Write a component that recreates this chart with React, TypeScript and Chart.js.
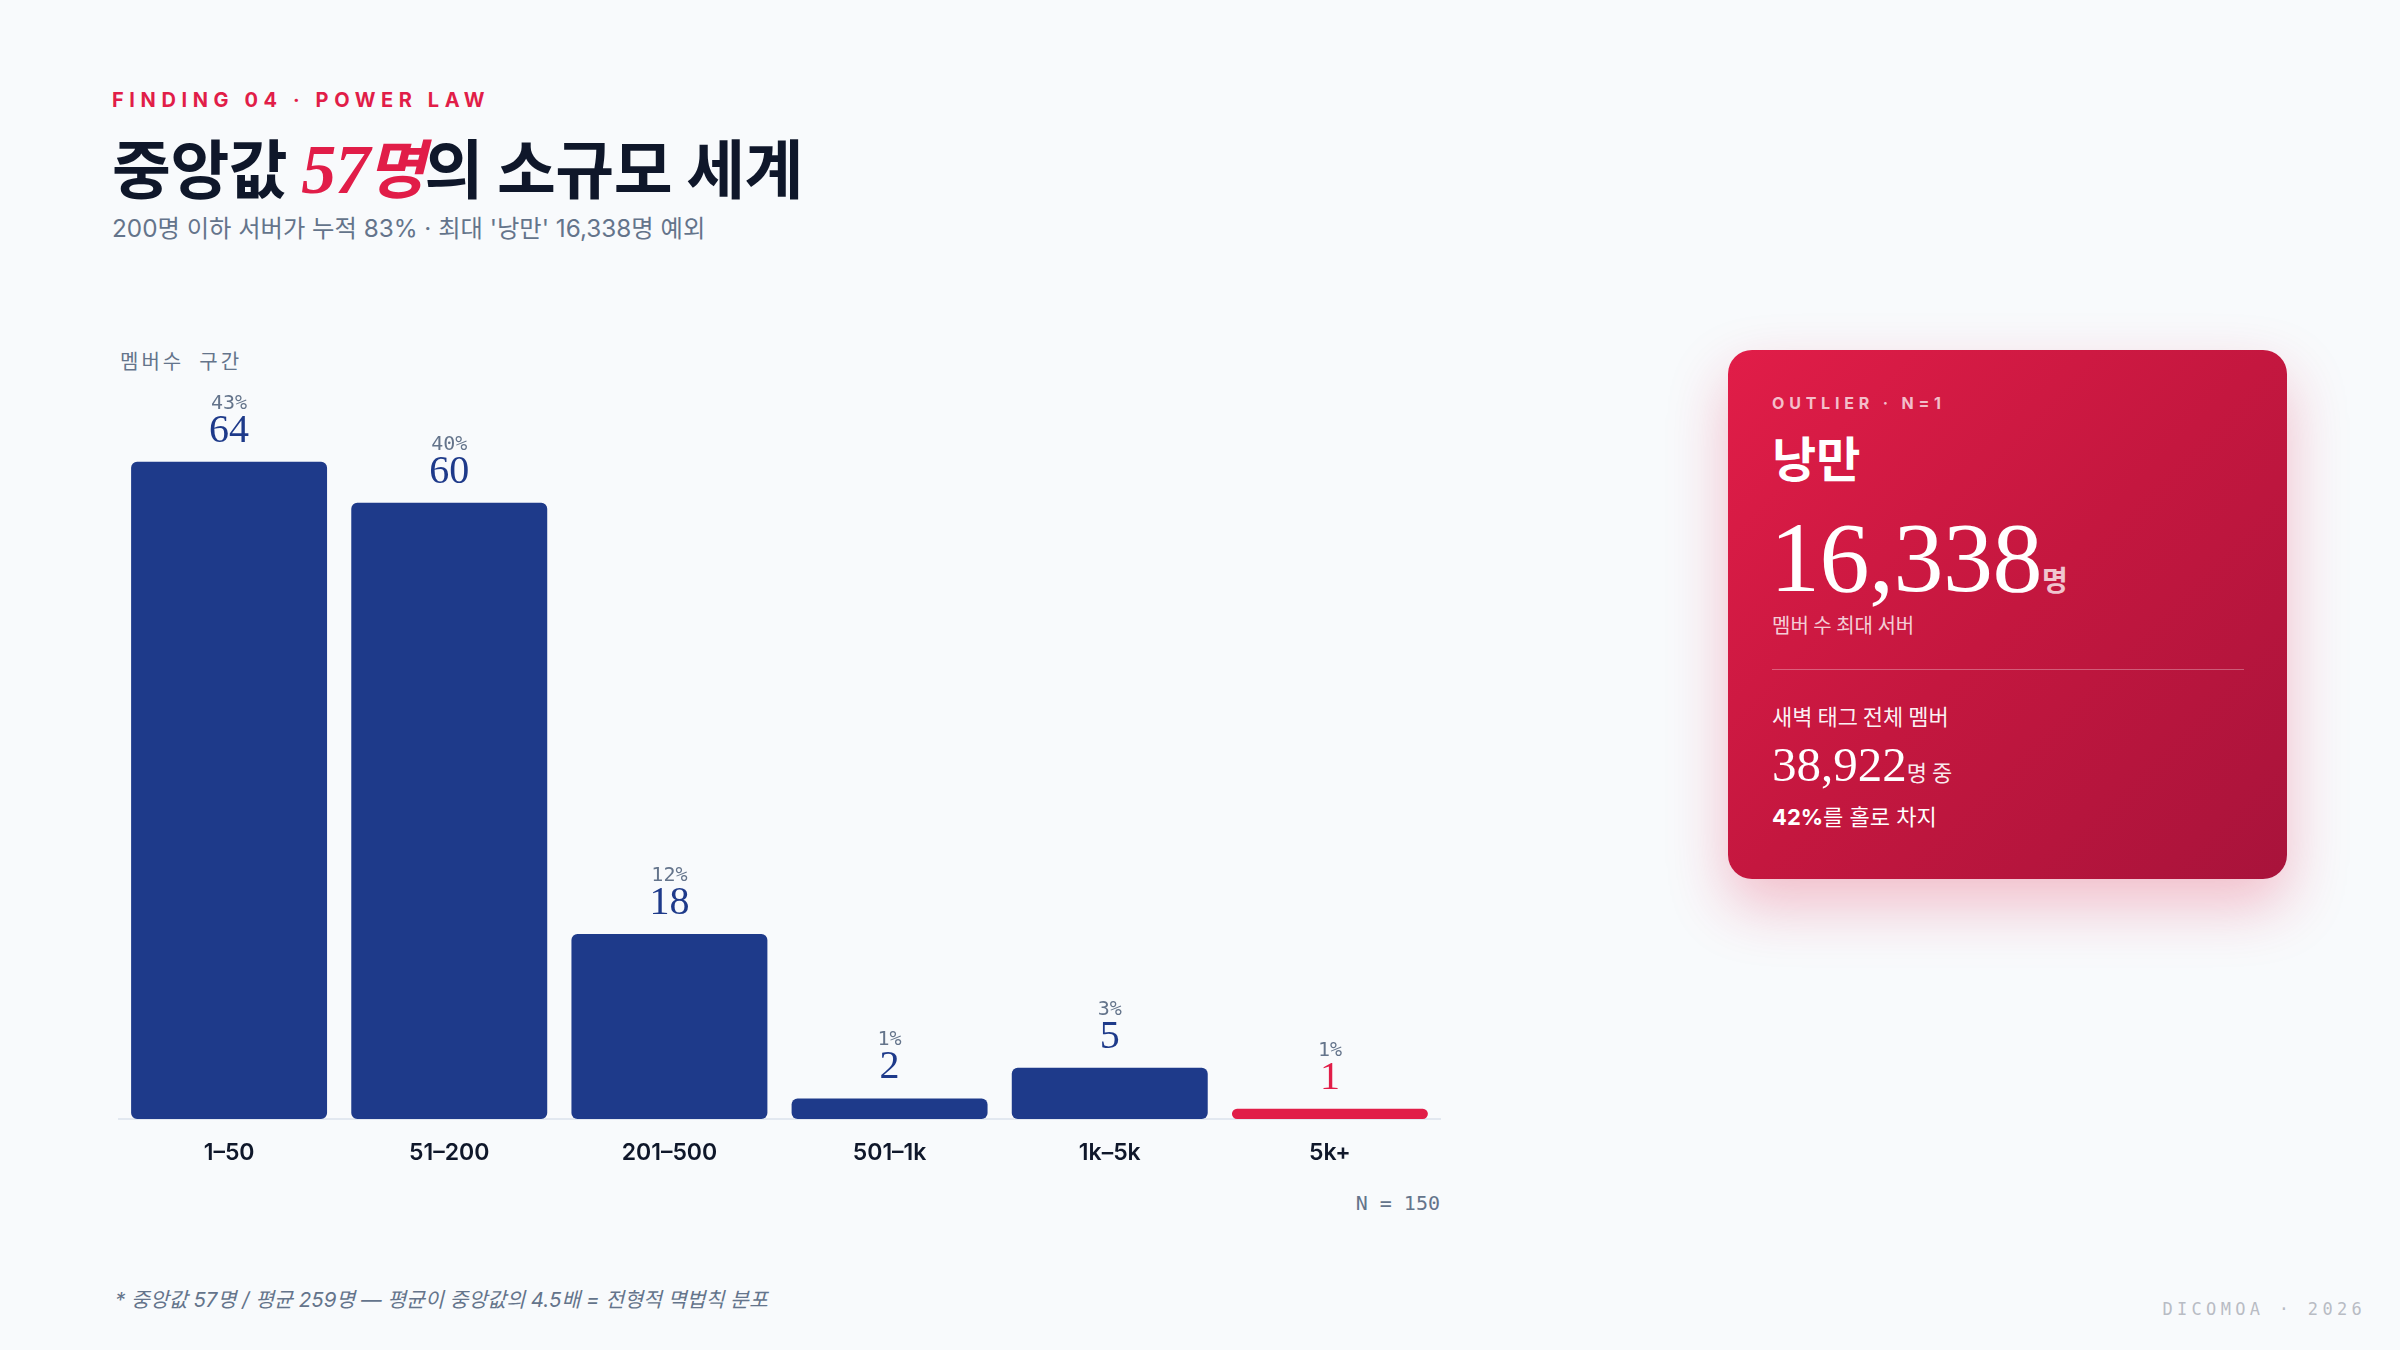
import React, { useEffect, useRef } from "react";
import { Chart, registerables } from "chart.js";

Chart.register(...registerables);

// ---- data ----
const categories = ["1–50", "51–200", "201–500", "501–1k", "1k–5k", "5k+"];
const serverCounts = [64, 60, 18, 2, 5, 1];
const sharePercents = ["43%", "40%", "12%", "1%", "3%", "1%"];
const outlierCategory = "5k+";
const yAxisMax = 70;

const NAVY = "#1e3a8a";
const RED = "#e11d48";
const SLATE = "#64748b";
const INK = "#0f172a";

const SANS = "Inter, 'Noto Sans CJK KR', sans-serif";
const CJK = "'Noto Sans CJK KR', Inter, sans-serif";
const SERIF = "'Liberation Serif', 'Noto Sans CJK KR', serif";
const MONO = "'DejaVu Sans Mono', 'Noto Sans CJK KR', monospace";

const barColor = (i: number) => (categories[i] === outlierCategory ? RED : NAVY);

const valueLabels = {
  id: "valueLabels",
  afterDatasetsDraw(chart: any) {
    const ctx = chart.ctx;
    const meta = chart.getDatasetMeta(0);
    meta.data.forEach((bar: any, i: number) => {
      const { x, y } = bar.getProps(["x", "y"], true);
      ctx.save();
      ctx.textAlign = "center";
      ctx.textBaseline = "alphabetic";
      ctx.font = "400 40px 'Liberation Serif', serif";
      ctx.fillStyle = barColor(i);
      ctx.fillText(String(serverCounts[i]), x, y - 20);
      ctx.font = "400 20px 'DejaVu Sans Mono', monospace";
      ctx.fillStyle = SLATE;
      ctx.fillText(sharePercents[i], x, y - 53);
      ctx.restore();
    });
  },
};

function T(props: {
  x?: number;
  right?: number;
  cy: number;
  size: number;
  children: React.ReactNode;
  style?: React.CSSProperties;
}) {
  const { x, right, cy, size, children, style } = props;
  return (
    <div
      style={{
        position: "absolute",
        left: x,
        right,
        top: cy - size / 2,
        fontSize: size,
        lineHeight: `${size}px`,
        whiteSpace: "nowrap",
        ...style,
      }}
    >
      {children}
    </div>
  );
}

function BarChart() {
  const ref = useRef<HTMLCanvasElement | null>(null);
  useEffect(() => {
    if (!ref.current) return;
    const chart = new Chart(ref.current, {
      type: "bar",
      data: {
        labels: categories,
        datasets: [
          {
            data: serverCounts,
            backgroundColor: categories.map((_, i) => barColor(i)),
            borderRadius: 6,
            borderSkipped: false,
            barPercentage: 0.89,
            categoryPercentage: 1,
          },
        ],
      },
      options: {
        responsive: false,
        maintainAspectRatio: false,
        animation: false,
        devicePixelRatio: 1,
        layout: { padding: { left: 19, right: 20, top: 70, bottom: 0 } },
        plugins: { legend: { display: false }, tooltip: { enabled: false } },
        scales: {
          x: {
            grid: { display: false, drawTicks: false },
            border: { display: true, color: "#e2e8f0", width: 2 },
            ticks: {
              padding: 20,
              color: INK,
              font: { family: "Inter", size: 23, weight: "600" },
            },
            afterFit: (s: any) => {
              s.height = 60;
            },
          },
          y: { display: false, min: 0, max: yAxisMax },
        },
      },
      plugins: [valueLabels],
    } as any);
    return () => chart.destroy();
  }, []);
  return (
    <canvas
      ref={ref}
      width={1360}
      height={849}
      style={{ position: "absolute", left: 100, top: 330, width: 1360, height: 849 }}
    />
  );
}

function OutlierCard() {
  const W = "#ffffff";
  return (
    <div
      style={{
        position: "absolute",
        left: 1728,
        top: 350,
        width: 559,
        height: 529,
        borderRadius: 24,
        background: "linear-gradient(135deg, #e11d48 0%, #c4173f 50%, #a8133b 100%)",
        boxShadow: "0 26px 60px rgba(225,29,72,0.28)",
        color: W,
        fontFamily: SANS,
      }}
    >
      <T x={44} cy={53} size={16} style={{ fontWeight: 700, letterSpacing: 4.8, color: "rgba(255,255,255,0.72)" }}>
        OUTLIER · N=1
      </T>
      <T x={44} cy={106} size={48} style={{ fontWeight: 700, fontFamily: CJK }}>
        낭만
      </T>
      <div
        style={{
          position: "absolute",
          left: 42,
          top: 158,
          fontSize: 100,
          lineHeight: "100px",
          fontFamily: SERIF,
          letterSpacing: -0.5,
          whiteSpace: "nowrap",
        }}
      >
        16,338
        <span style={{ fontFamily: CJK, fontSize: 28, fontWeight: 700, letterSpacing: 0, color: "rgba(255,255,255,0.75)" }}>
          명
        </span>
      </div>
      <T x={44} cy={275} size={20} style={{ color: "rgba(255,255,255,0.8)", fontFamily: CJK }}>
        멤버 수 최대 서버
      </T>
      <div
        style={{
          position: "absolute",
          left: 44,
          top: 319,
          width: 472,
          height: 1,
          background: "rgba(255,255,255,0.3)",
        }}
      />
      <T x={44} cy={365} size={22} style={{ color: "rgba(255,255,255,0.95)", fontFamily: CJK }}>
        새벽 태그 전체 멤버
      </T>
      <div
        style={{
          position: "absolute",
          left: 44,
          top: 390,
          fontSize: 49,
          lineHeight: "49px",
          fontFamily: SERIF,
          whiteSpace: "nowrap",
        }}
      >
        38,922
        <span style={{ fontFamily: CJK, fontSize: 22, color: "rgba(255,255,255,0.92)" }}>명 중</span>
      </div>
      <T x={44} cy={467} size={22} style={{ fontFamily: SANS }}>
        <span style={{ fontWeight: 700 }}>42%</span>를 홀로 차지
      </T>
    </div>
  );
}

export default function App() {
  return (
    <div
      style={{
        position: "absolute",
        left: 0,
        top: 0,
        width: 2400,
        height: 1350,
        background: "#f8fafc",
        overflow: "hidden",
        fontFamily: SANS,
      }}
    >
      <T x={112} cy={100} size={20} style={{ fontWeight: 700, letterSpacing: 5.6, color: RED }}>
        FINDING 04 · POWER LAW
      </T>
      <T x={112} cy={165} size={64} style={{ fontWeight: 700, color: INK, fontFamily: CJK, letterSpacing: -0.5 }}>
        중앙값{" "}
        <span style={{ color: RED, fontStyle: "italic", fontFamily: SERIF, fontSize: 70, letterSpacing: -1 }}>
          57<span style={{ fontFamily: CJK, fontWeight: 700, fontSize: 64, marginLeft: -3, letterSpacing: -0.5 }}>명</span>
        </span>
        의 소규모 세계
      </T>
      <T x={112} cy={228} size={24.3} style={{ color: SLATE }}>
        200명 이하 서버가 누적 83% · 최대 '낭만' 16,338명 예외
      </T>

      <T x={120} cy={362} size={20} style={{ color: SLATE, letterSpacing: 3, fontFamily: MONO }}>
        멤버수 구간
      </T>

      <BarChart />

      <T right={960} cy={1203} size={20} style={{ color: SLATE, fontFamily: MONO, textAlign: "right" }}>
        N = 150
      </T>

      <T x={115} cy={1300} size={20.5} style={{ color: SLATE, fontStyle: "italic" }}>
        * 중앙값 57명 / 평균 259명 — 평균이 중앙값의 4.5배 = 전형적 멱법칙 분포
      </T>

      <T right={34} cy={1309} size={17} style={{ color: "#b8bcc4", fontFamily: MONO, letterSpacing: 4.3, textAlign: "right" }}>
        DICOMOA · 2026
      </T>

      <OutlierCard />
    </div>
  );
}
